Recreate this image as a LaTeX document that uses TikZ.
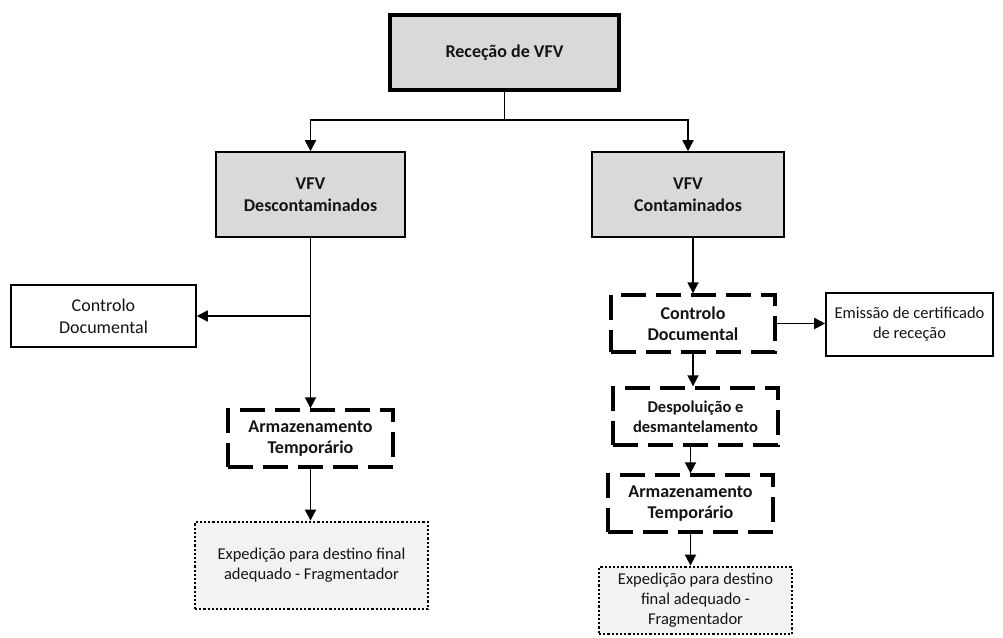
\documentclass[tikz,border=0pt]{standalone}
\usepackage{fontspec}
\setmainfont{Carlito}
\usetikzlibrary{arrows.meta}
\definecolor{hdr}{HTML}{D9D9D9}
\definecolor{light}{HTML}{F2F2F2}
\definecolor{txt}{HTML}{141414}
\tikzset{
  base/.style={draw=black, rectangle, align=center, text=txt, inner sep=2pt},
  topbox/.style={base, fill=hdr, line width=4pt, font=\fontsize{18}{22}\selectfont\bfseries},
  graybox/.style={base, fill=hdr, line width=1.6pt, font=\fontsize{18}{22}\selectfont\bfseries},
  plainbox/.style={base, fill=white, line width=1.6pt, font=\fontsize{18}{22}\selectfont},
  plainsmall/.style={base, fill=white, line width=1.6pt, font=\fontsize{16.5}{20}\selectfont},
  dashbox/.style={base, fill=white, line width=3.4pt, dash pattern=on 25pt off 10pt, font=\fontsize{18}{21}\selectfont\bfseries},
  dashsmall/.style={base, fill=white, line width=3.4pt, dash pattern=on 25pt off 10pt, font=\fontsize{16.5}{20}\selectfont\bfseries},
  dotbox/.style={base, fill=light, line width=2.8pt, dash pattern=on 2.2pt off 2pt, font=\fontsize{16.5}{20}\selectfont},
  arr/.style={draw=black, line width=1.8pt, -{Triangle[length=11pt,width=11pt]}},
  ln/.style={draw=black, line width=1.8pt}
}
\begin{document}
\begin{tikzpicture}[x=1pt,y=-1pt]
\useasboundingbox (0,0) rectangle (1003,637);
\node[topbox, minimum width=229pt, minimum height=75pt] (top) at (504.5,52.5) {Receção de VFV};
\node[graybox, minimum width=189pt, minimum height=85pt] (ldec) at (310.5,194.5) {VFV\\Descontaminados};
\node[graybox, minimum width=192pt, minimum height=85pt] (rcon) at (688,194.5) {VFV\\Contaminados};
\node[plainbox, minimum width=185pt, minimum height=62pt] (lcd) at (103.5,316) {Controlo\\Documental};
\node[dashbox, minimum width=165pt, minimum height=57pt] (larm) at (310.5,438.5) {Armazenamento\\Temporário};
\node[dotbox, minimum width=233pt, minimum height=87pt] (lexp) at (311.5,565.5) {Expedição para destino final\\adequado - Fragmentador};
\node[dashbox, minimum width=164pt, minimum height=57pt] (rcd) at (693,323.5) {Controlo\\Documental};
\node[plainsmall, minimum width=167pt, minimum height=63pt] (emi) at (909.5,324.5) {Emissão de certificado\\de receção};
\node[dashsmall, minimum width=165pt, minimum height=57pt] (rdes) at (695.5,416.5) {Despoluição e\\desmantelamento};
\node[dashbox, minimum width=165pt, minimum height=57pt] (rarm) at (690.5,503.5) {Armazenamento\\Temporário};
\node[dotbox, minimum width=193pt, minimum height=67pt] (rexp) at (695.5,600.5) {Expedição para destino\\final adequado -\\Fragmentador};
\coordinate (split) at (504.5,120);
\draw[ln] (top.south) -- (split);
\draw[arr] (split) -| (ldec.north);
\draw[arr] (split) -| (rcon.north);
\draw[arr] (ldec.south) -- (larm.north);
\draw[arr] (ldec.south |- lcd.east) -- (lcd.east);
\draw[arr] (larm.south) -- (larm.south |- lexp.north);
\draw[arr] (rcon.south -| rcd.north) -- (rcd.north);
\draw[arr] (rcd.east) -- (rcd.east -| emi.west);
\draw[arr] (rcd.south) -- (rcd.south |- rdes.north);
\draw[arr] (rdes.south -| rarm.north) -- (rarm.north);
\draw[arr] (rarm.south) -- (rarm.south |- rexp.north);
\end{tikzpicture}
\end{document}
